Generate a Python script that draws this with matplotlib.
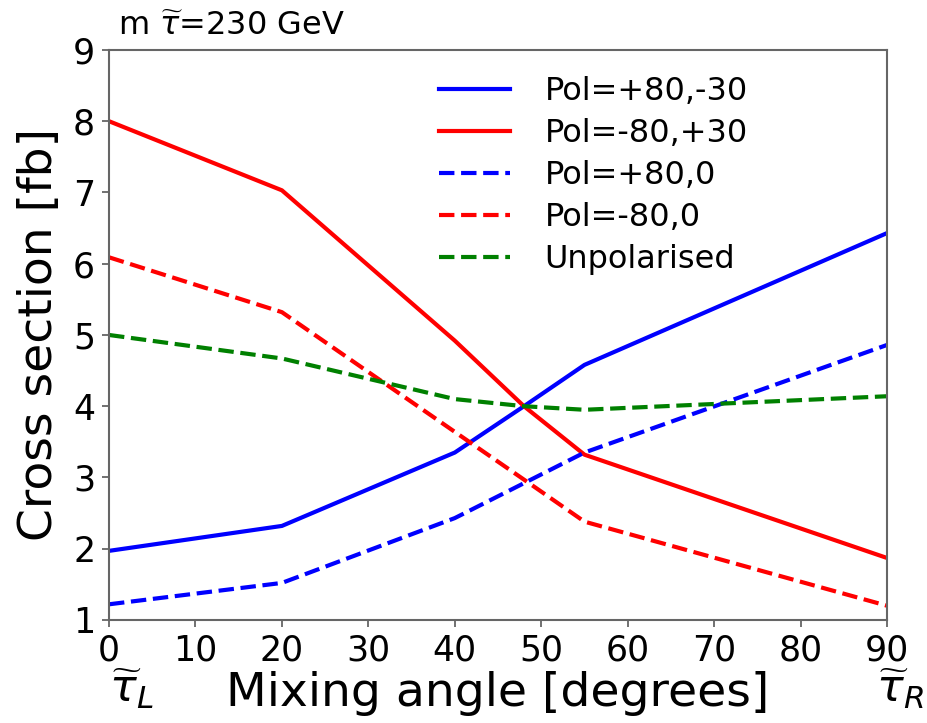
import numpy as np
import matplotlib.pyplot as plt

# mixing angle points (degrees)
angle = [0, 20, 40, 48, 55, 90]

# cross sections in fb for each beam polarisation
xs_p80_m30 = [1.97, 2.32, 3.35, 4.00, 4.58, 6.43]
xs_m80_p30 = [8.00, 7.03, 4.92, 4.00, 3.32, 1.87]
xs_p80_0 = [1.22, 1.52, 2.43, 2.92, 3.35, 4.86]
xs_m80_0 = [6.09, 5.32, 3.64, 2.97, 2.38, 1.20]
xs_unpol = [5.00, 4.67, 4.10, 4.00, 3.95, 4.14]

labels = ['Pol=+80,-30', 'Pol=-80,+30', 'Pol=+80,0', 'Pol=-80,0', 'Unpolarised']

fig = plt.figure(figsize=(9.27, 7.23), dpi=100)
ax = fig.add_axes([0.1176, 0.1425, 0.8393, 0.7884])

ax.plot(angle, xs_p80_m30, color='blue', lw=3, label=labels[0])
ax.plot(angle, xs_m80_p30, color='red', lw=3, label=labels[1])
ax.plot(angle, xs_p80_0, color='blue', lw=3, ls='--', label=labels[2])
ax.plot(angle, xs_m80_0, color='red', lw=3, ls='--', label=labels[3])
ax.plot(angle, xs_unpol, color='green', lw=3, ls='--', label=labels[4])

ax.set_xlim(0, 90)
ax.set_ylim(1, 9)
ax.set_xticks(np.arange(0, 91, 10))
ax.set_yticks(np.arange(1, 10, 1))
ax.tick_params(labelsize=25, length=5, width=1.2, pad=5, color='0.35')
for sp in ax.spines.values():
    sp.set_color('0.4')
    sp.set_linewidth(1.5)

ax.set_xlabel('Mixing angle [degrees]', fontsize=34, labelpad=2)
ax.set_ylabel('Cross section [fb]', fontsize=34, labelpad=8)

ax.text(0.012, 1.026, r'm $\widetilde{\tau}$=230 GeV', transform=ax.transAxes,
        fontsize=23, va='baseline', ha='left')

# stau eigenstate markers at both ends of the axis
ax.text(0.0, -0.082, r'$\widetilde{\tau}_L$', transform=ax.transAxes,
        fontsize=32, ha='left', va='top')
ax.text(0.986, -0.082, r'$\widetilde{\tau}_R$', transform=ax.transAxes,
        fontsize=32, ha='left', va='top')

ax.legend(loc='upper left', bbox_to_anchor=(0.408, 0.976), borderaxespad=0,
          frameon=False, fontsize=23, handlelength=2.2, handletextpad=1.1,
          labelspacing=0.34)

fig.savefig('out.png', dpi=100)
